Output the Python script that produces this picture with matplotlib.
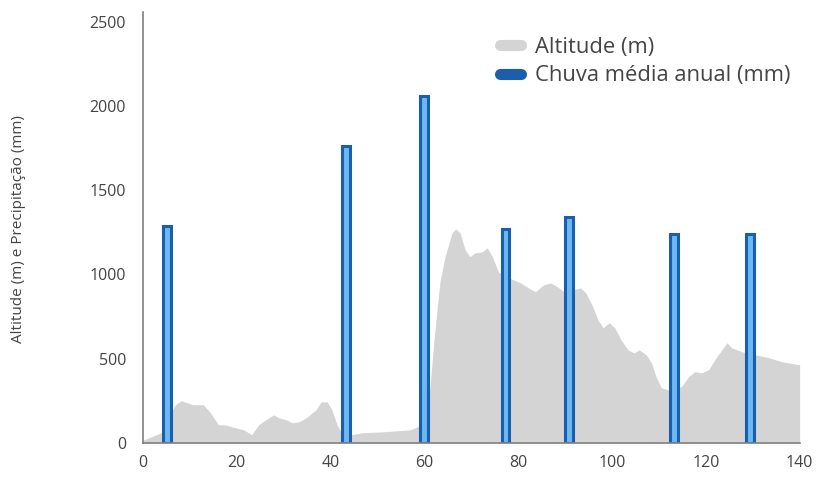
"""Altitude profile with annual mean rainfall bars."""

import matplotlib

matplotlib.use("Agg")
import matplotlib.pyplot as plt
from matplotlib.lines import Line2D

# altitude profile (km along transect, m)
alt_x = [0, 3.9, 6.9, 8.2, 10.7, 12.9, 14.4, 16.1, 17.6, 18.9, 21.5, 23.2, 24.7,
         26.2, 27.9, 29.0, 30.5, 31.8, 33.3, 34.8, 36.9, 38.0, 39.3, 40.3, 41.4,
         42.5, 44.4, 46.8, 51.1, 54.1, 56.9, 58.6, 60.3, 61.2, 62.2, 63.3, 64.4,
         65.9, 66.7, 67.6, 68.7, 69.7, 70.8, 72.3, 73.4, 74.5, 75.8, 77.3, 79.0,
         80.5, 82.2, 83.7, 85.4, 86.9, 88.4, 89.7, 91.6, 93.3, 94.4, 95.9, 97.0,
         98.1, 99.4, 100.6, 101.9, 103.4, 104.7, 105.8, 107.3, 108.4, 109.4,
         110.5, 112.0, 114.8, 116.3, 117.6, 119.1, 120.6, 121.9, 123.4, 124.5,
         125.5, 127.7, 130.5, 133.5, 136.3, 140]
alt_y = [15, 60, 226, 250, 226, 226, 178, 107, 107, 95, 77, 48, 107,
         137, 166, 148, 137, 119, 125, 148, 196, 243, 243, 196, 107,
         48, 48, 60, 65, 71, 77, 95, 150, 333, 653, 950, 1105,
         1247, 1271, 1247, 1146, 1105, 1128, 1134, 1158, 1105, 1015, 986, 968,
         950, 920, 897, 938, 950, 926, 897, 909, 920, 891, 808, 730,
         683, 713, 683, 612, 552, 534, 552, 523, 475, 392,
         327, 315, 333, 392, 422, 416, 434, 493, 552, 594,
         564, 540, 523, 505, 481, 463]

# rainfall stations
rain_x = [5.2, 43.3, 60.0, 77.3, 90.8, 113.3, 129.4]
rain_y = [1290, 1760, 2060, 1270, 1340, 1240, 1240]

xticks = [0, 20, 40, 60, 80, 100, 120, 140]
yticks = [0, 500, 1000, 1500, 2000, 2500]

plt.rcParams["font.family"] = ["Open Sans", "DejaVu Sans"]

fig = plt.figure(figsize=(8.21, 4.92), dpi=100)
ax = fig.add_axes([0.174, 0.1, 0.8, 0.876])

ax.fill_between(alt_x, alt_y, 0, color="#d4d4d4", lw=0, zorder=1)
ax.bar(rain_x, rain_y, width=1.7, color="#6cb8f2", edgecolor="#1b5eab",
       linewidth=2.2, zorder=2)

ax.set_xlim(0, 140)
ax.set_ylim(0, 2560)
ax.set_xticks(xticks)
ax.set_yticks(yticks)
ax.tick_params(length=0, labelsize=11.5, colors="#444444")
ax.tick_params(axis="x", pad=9)
ax.tick_params(axis="y", pad=12)
for s in ["top", "right"]:
    ax.spines[s].set_visible(False)
for s in ["left", "bottom"]:
    ax.spines[s].set_color("#808080")
    ax.spines[s].set_linewidth(1.2)

fig.text(0.022, 0.535, "Altitude (m) e Precipitação (mm)", rotation=90,
         ha="center", va="center", fontsize=11, color="#444444")

handles = [
    Line2D([], [], color="#d4d4d4", lw=8, solid_capstyle="round"),
    Line2D([], [], color="#1b5eab", lw=8, solid_capstyle="round"),
]
ax.legend(handles, ["Altitude (m)", "Chuva média anual (mm)"],
          loc="upper left", bbox_to_anchor=(0.513, 0.987), frameon=False,
          fontsize=15.8, handlelength=1.0, handletextpad=0.6, labelspacing=0.32,
          labelcolor="#444444")

fig.savefig("out.png", dpi=100)
